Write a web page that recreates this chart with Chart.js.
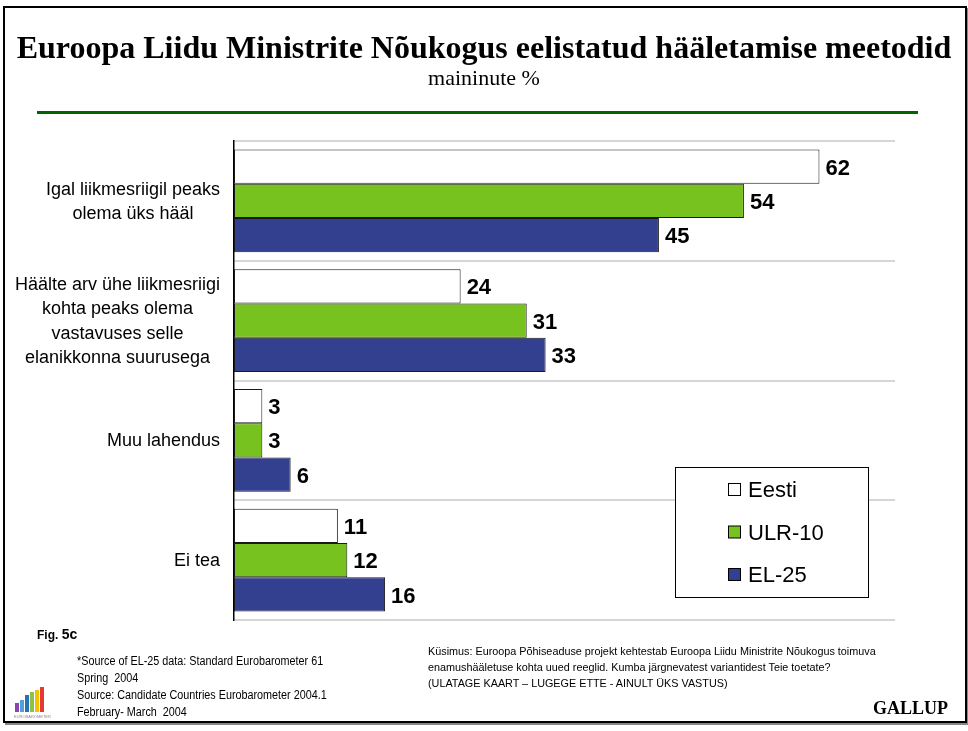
<!DOCTYPE html>
<html>
<head>
<meta charset="utf-8">
<script src="https://cdn.jsdelivr.net/npm/chart.js@4"></script>
<style>
  body { margin: 0; background: #fff; }
  #wrap { position: relative; width: 968px; height: 731px; overflow: hidden; }
  #frame { position: absolute; left: 3px; top: 6px; width: 960px; height: 713px; border: 2px solid #000; box-shadow: 2px 2px 0 #888; }
  canvas { position: absolute; left: 0; top: 0; }
  .t { position: absolute; white-space: nowrap; color: #000; }
  #title { left: 0; width: 968px; top: 30px; text-align: center; font: bold 32px "Liberation Serif", serif; line-height: 34px; }
  #sub { left: 0; width: 968px; top: 66px; text-align: center; font: 22px "Liberation Serif", serif; line-height: 24px; }
  #rule { position: absolute; left: 37px; top: 111px; width: 881px; height: 3px; background: #006400; }
  #fig { left: 37px; top: 626px; font: bold 12px "Liberation Sans", sans-serif; }
  #fig b { font-size: 14px; }
  #src { left: 77px; top: 653px; font: 12px "Liberation Sans", sans-serif; line-height: 17px; transform: scaleX(0.9); transform-origin: left top; }
  #q { left: 428px; top: 643px; font: 11.5px "Liberation Sans", sans-serif; line-height: 16px; transform: scaleX(0.94); transform-origin: left top; }
  #gallup { left: 873px; top: 698px; font: bold 18px "Liberation Serif", serif; }
</style>
</head>
<body>
<div id="wrap">
  <div id="frame"></div>
  <canvas id="chart" width="968" height="731"></canvas>
  <div class="t" id="title">Euroopa Liidu Ministrite Nõukogus eelistatud hääletamise meetodid</div>
  <div class="t" id="sub">maininute %</div>
  <div id="rule"></div>
  <div class="t" id="fig">Fig. <b>5c</b></div>
  <div class="t" id="src">*Source of EL-25 data: Standard Eurobarometer 61<br>Spring&nbsp; 2004<br>Source: Candidate Countries Eurobarometer 2004.1<br>February- March&nbsp; 2004</div>
  <div class="t" id="q">Küsimus: Euroopa Põhiseaduse projekt kehtestab Euroopa Liidu Ministrite Nõukogus toimuva<br>enamushääletuse kohta uued reeglid. Kumba järgnevatest variantidest Teie toetate?<br>(ULATAGE KAART – LUGEGE ETTE - AINULT ÜKS VASTUS)</div>
  <div class="t" id="gallup">GALLUP</div>
</div>
<script>
const categories = [
  ["Igal liikmesriigil peaks", "olema üks hääl"],
  ["Häälte arv ühe liikmesriigi", "kohta peaks olema", "vastavuses selle", "elanikkonna suurusega"],
  ["Muu lahendus"],
  ["Ei tea"]
];
const seriesNames = ["Eesti", "ULR-10", "EL-25"];
const eesti = [62, 24, 3, 11];
const ulr10 = [54, 31, 3, 12];
const el25 = [45, 33, 6, 16];
const seriesColors = ["#ffffff", "#78c21f", "#333f8f"];

// category labels, value labels, legend box and logo
const decor = {
  id: "decor",
  afterDatasetsDraw(chart) {
    const c = chart.ctx;
    const ys = chart.scales.y;
    c.save();
    c.fillStyle = "#000";
    c.font = "18px 'Liberation Sans', Arial, sans-serif";
    c.textAlign = "center";
    c.textBaseline = "middle";
    categories.forEach((lines, i) => {
      const yc = ys.getPixelForValue(i);
      const w = Math.max(...lines.map(l => c.measureText(l).width));
      const cx = 220 - w / 2;
      const lh = 24.5;
      lines.forEach((l, k) => {
        c.fillText(l, cx, yc + 1 + (k - (lines.length - 1) / 2) * lh);
      });
    });

    c.font = "bold 22px 'Liberation Sans', Arial, sans-serif";
    c.textAlign = "left";
    chart.data.datasets.forEach((ds, di) => {
      chart.getDatasetMeta(di).data.forEach((bar, i) => {
        c.fillText(String(ds.data[i]), bar.x + 6, bar.y + 2);
      });
    });

    // legend
    const lx = 675, ly = 467, lw = 193, lh2 = 130;
    c.fillStyle = "#fff";
    c.fillRect(lx, ly, lw, lh2);
    c.strokeStyle = "#000";
    c.lineWidth = 1;
    c.strokeRect(lx + 0.5, ly + 0.5, lw, lh2);
    c.font = "22px 'Liberation Sans', Arial, sans-serif";
    chart.data.datasets.forEach((ds, di) => {
      const y = 490 + di * 42.5;
      c.fillStyle = ds.backgroundColor;
      c.fillRect(728.5, y - 6.5, 12, 12);
      c.strokeStyle = "#000";
      c.strokeRect(728.5, y - 6.5, 12, 12);
      c.fillStyle = "#000";
      c.fillText(ds.label, 748, y + 1);
    });

    // eurobarometer logo
    const logo = [["#4aa3df", 20, 700, 4, 12], ["#2c6fb7", 25, 695, 4, 17], ["#8bc34a", 30, 692, 4, 20],
                  ["#f2c200", 35, 690, 4, 22], ["#e53935", 40, 687, 4, 25], ["#8e44ad", 15, 703, 4, 9]];
    logo.forEach(([col, x, y, w, h]) => { c.fillStyle = col; c.fillRect(x, y, w, h); });
    c.fillStyle = "#889";
    c.font = "4px sans-serif";
    c.fillText("EUROBAROMETER", 14, 717);
    c.restore();
  }
};

new Chart(document.getElementById("chart"), {
  type: "bar",
  data: {
    labels: categories,
    datasets: [
      { label: seriesNames[0], data: eesti, backgroundColor: seriesColors[0] },
      { label: seriesNames[1], data: ulr10, backgroundColor: seriesColors[1] },
      { label: seriesNames[2], data: el25, backgroundColor: seriesColors[2] }
    ].map(d => ({ ...d, borderColor: "#1a1a1a", borderWidth: 1, borderSkipped: false,
                   categoryPercentage: 0.86, barPercentage: 1 }))
  },
  options: {
    indexAxis: "y",
    responsive: false,
    animation: false,
    layout: { padding: { left: 234, right: 73, top: 141, bottom: 111 } },
    plugins: { legend: { display: false }, tooltip: { enabled: false }, title: { display: false } },
    scales: {
      x: { min: 0, max: 70, display: false },
      y: {
        ticks: { display: false },
        grid: { color: "#d6d6d6", lineWidth: 2, drawTicks: false },
        border: { display: true, color: "#000", width: 1.5 },
        afterFit: s => { s.width = 0; }
      }
    }
  },
  plugins: [decor]
});
</script>
</body>
</html>
